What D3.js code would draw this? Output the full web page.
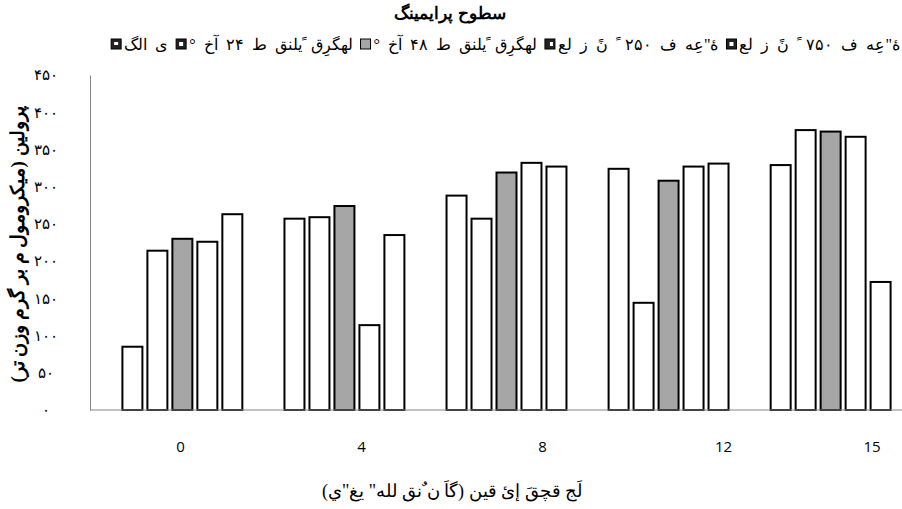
<!DOCTYPE html>
<html>
<head>
<meta charset="utf-8">
<script src="https://cdn.jsdelivr.net/npm/d3@7"></script>
<style>
  body { margin: 0; background: #fff; }
  svg text { font-family: "Times New Roman", "Liberation Serif", "DejaVu Serif", serif; }
</style>
</head>
<body>
<div id="chart"></div>
<script>
// data
const categories = ["0", "4", "8", "12", "15"];
const seriesNames = [
  "ی الگ",
  "لهگرِق ًيلنق ط ۲۴ آخ °",
  "لهگرِق ًيلنق ط ۴۸ آخ °",
  "ۀ\"عِه ف ۲۵۰ ً نً ز لع",
  "ۀ\"عِه ف ۷۵۰ ً نً ز لع"
];
const seriesValues = [
  [85, 257, 288, 324, 329],
  [214, 259, 257, 144, 376],
  [230, 274, 319, 308, 374],
  [226, 114, 332, 327, 367],
  [263, 235, 327, 331, 172]
];
const yTicks = [0, 50, 100, 150, 200, 250, 300, 350, 400, 450];
const chartTitle = "سطوح پرایمینگ";
const xTitle = "لَج قچقَ  إئ قين (گاَ ن ٌنق لله\" يغ\"ي)";
const yTitle = "پرولین (میکرومول م بر گرم وزن تر)";

const width = 902, height = 509;
const plot = { left: 90, right: 923, top: 75, bottom: 410 };
const fills = ["#fff", "#fff", "#a6a6a6", "#fff", "#fff"];

const faDigits = n => String(n).replace(/\d/g, d => "۰۱۲۳۴۵۶۷۸۹"[d]);

const svg = d3.select("#chart").append("svg")
  .attr("width", width)
  .attr("height", height);

const x0 = d3.scaleBand()
  .domain(categories)
  .range([plot.left, plot.right])
  .paddingInner(0.26)
  .paddingOuter(0.2);

const x1 = d3.scaleBand()
  .domain(d3.range(seriesNames.length))
  .range([0, x0.bandwidth()])
  .paddingInner(0.2);

// tick labels sit on their own spacing in the original
const xLabel = d3.scaleBand()
  .domain(categories)
  .range([plot.left, plot.left + 5 * 181]);

const y = d3.scaleLinear()
  .domain([0, 450])
  .range([plot.bottom, plot.top]);

// y axis
const yAxis = d3.axisLeft(y)
  .tickValues(yTicks)
  .tickSize(0)
  .tickPadding(44)
  .tickFormat(faDigits);

svg.append("g")
  .attr("transform", "translate(" + plot.left + ",0)")
  .call(yAxis)
  .call(g => g.select(".domain").attr("stroke", "#868686"))
  .call(g => g.selectAll("text")
    .attr("text-anchor", "middle")
    .style("font-size", "15px")
    .attr("fill", "#000"));

// bars
const groups = svg.append("g")
  .selectAll("g")
  .data(categories)
  .join("g")
  .attr("transform", d => "translate(" + x0(d) + ",0)");

groups.selectAll("rect")
  .data((d, ci) => seriesValues.map((s, si) => ({ si: si, v: s[ci] })))
  .join("rect")
  .attr("x", d => x1(d.si))
  .attr("y", d => y(d.v))
  .attr("width", x1.bandwidth())
  .attr("height", d => plot.bottom - y(d.v))
  .attr("fill", d => fills[d.si])
  .attr("stroke", "#000")
  .attr("stroke-width", 2);

// x axis line
svg.append("line")
  .attr("x1", plot.left)
  .attr("x2", width)
  .attr("y1", plot.bottom)
  .attr("y2", plot.bottom)
  .attr("stroke", "#868686");

// x tick labels
svg.append("g")
  .selectAll("text")
  .data(categories)
  .join("text")
  .attr("x", d => Math.min(xLabel(d) + xLabel.bandwidth() / 2, 872))
  .attr("y", 452)
  .attr("text-anchor", "middle")
  .style("font-family", "'Open Sans', 'Noto Sans', sans-serif")
  .style("font-size", "15px")
  .text(d => d);

// titles
svg.append("text")
  .attr("x", 450)
  .attr("y", 19)
  .attr("text-anchor", "middle")
  .style("font-size", "17px")
  .style("font-weight", "bold")
  .text(chartTitle);

svg.append("text")
  .attr("x", 452)
  .attr("y", 497)
  .attr("text-anchor", "middle")
  .attr("direction", "rtl")
  .style("font-size", "18px")
  .text(xTitle);

svg.append("text")
  .attr("transform", "translate(24," + ((plot.top + plot.bottom) / 2 + 2) + ") rotate(-90)")
  .attr("text-anchor", "middle")
  .attr("direction", "rtl")
  .style("font-size", "19px")
  .style("font-weight", "bold")
  .text(yTitle);

// legend, laid out right to left
const legend = svg.append("g");
let cursor = 900;
seriesNames.map((name, i) => i).reverse().forEach(i => {
  const t = legend.append("text")
    .attr("y", 50)
    .attr("direction", "rtl")
    .attr("text-anchor", "start")
    .attr("x", cursor)
    .style("font-size", "16px")
    .style("word-spacing", "4px")
    .text(seriesNames[i]);
  const w = t.node().getComputedTextLength();
  const mx = cursor - w - 13;
  legend.append("rect")
    .attr("x", mx)
    .attr("y", 39)
    .attr("width", 10)
    .attr("height", 10)
    .attr("fill", i === 2 ? "#a6a6a6" : "#222")
    .attr("stroke", "#000");
  if (i !== 2) {
    legend.append("rect")
      .attr("x", mx + (i === 3 ? 5 : 3))
      .attr("y", 42)
      .attr("width", i === 3 ? 3 : 4)
      .attr("height", i === 0 ? 3 : 4)
      .attr("fill", "#fff");
  }
  cursor = mx - 8;
});
</script>
</body>
</html>
